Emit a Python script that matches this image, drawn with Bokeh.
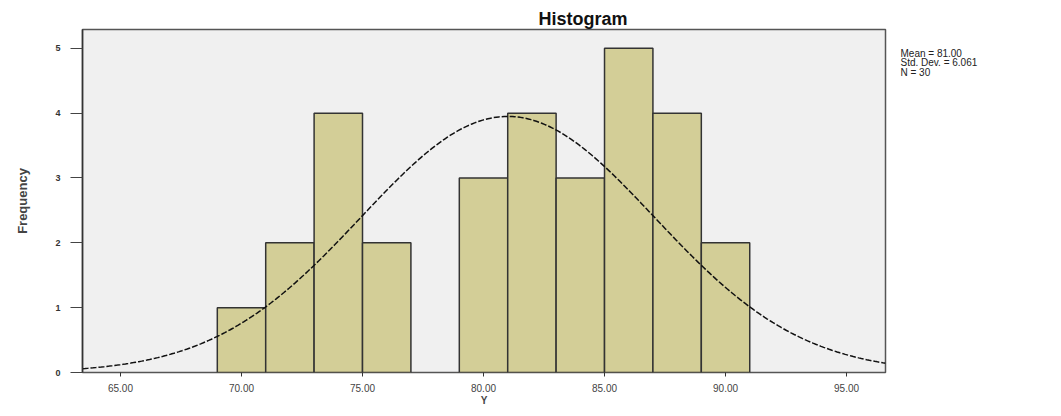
import numpy as np
from bokeh.plotting import figure
from bokeh.layouts import row
from bokeh.models import FixedTicker, NumeralTickFormatter, Range1d, Title
from bokeh.core.properties import value
from bokeh.embed import file_html
from bokeh.resources import INLINE

# Histogram data (bin edges and frequencies)
bin_left = [69, 71, 73, 75, 79, 81, 83, 85, 87, 89]
bin_right = [71, 73, 75, 77, 81, 83, 85, 87, 89, 91]
counts = [1, 2, 4, 2, 3, 4, 3, 5, 4, 2]

mean = 81.00
std_dev = 6.061
n = 30
bin_width = 2.0

x_ticks = [65, 70, 75, 80, 85, 90, 95]
y_ticks = [0, 1, 2, 3, 4, 5]

H = 408
p = figure(width=893, height=H, output_backend="svg", toolbar_location=None,
           x_range=Range1d(63.43, 96.61), y_range=Range1d(0, 5.29),
           min_border_left=82, min_border_right=8, min_border_top=29,
           min_border_bottom=30)

p.background_fill_color = "#F0F0F0"
p.border_fill_color = "white"
p.outline_line_color = "#555555"
p.outline_line_width = 1.5
p.grid.visible = False

p.quad(left=bin_left, right=bin_right, bottom=0, top=counts,
       fill_color="#D3CE97", line_color="#333333", line_width=1.5)

xs = np.linspace(63.43, 96.61, 300)
ys = n * bin_width / (std_dev * np.sqrt(2 * np.pi)) * np.exp(-0.5 * ((xs - mean) / std_dev) ** 2)
p.line(xs, ys, line_color="#111111", line_width=1.5, line_dash="6 2")

# axes
p.xaxis.ticker = FixedTicker(ticks=x_ticks)
p.xaxis.formatter = NumeralTickFormatter(format="0.00")
p.xaxis.axis_label = "Y"
p.xaxis.axis_label_text_font = "Liberation Sans"
p.xaxis.axis_label_text_font_style = "bold"
p.xaxis.axis_label_text_font_size = "10px"
p.xaxis.axis_label_standoff = 0
p.xaxis.major_label_text_font = "Liberation Sans"
p.xaxis.major_label_text_font_size = "10px"
p.xaxis.major_label_text_color = "#444444"
p.xaxis.major_label_standoff = 7
p.xaxis.major_tick_in = 0
p.xaxis.major_tick_out = 4
p.xaxis.minor_tick_line_color = None
p.xaxis.axis_line_color = None
p.xaxis.major_tick_line_color = "#333333"

p.yaxis.ticker = FixedTicker(ticks=y_ticks)
p.yaxis.axis_label = "Frequency"
p.yaxis.axis_label_text_font = "Liberation Sans"
p.yaxis.axis_label_text_font_style = "bold"
p.yaxis.axis_label_text_font_size = "13px"
p.yaxis.axis_label_standoff = 22
p.yaxis.major_label_text_font = "Liberation Sans"
p.yaxis.major_label_text_font_style = "bold"
p.yaxis.major_label_text_font_size = "9px"
p.yaxis.major_label_text_color = "#333333"
p.yaxis.major_label_standoff = 10
p.yaxis.major_tick_in = 0
p.yaxis.major_tick_out = 12
p.yaxis.minor_tick_line_color = None
p.yaxis.axis_line_color = "#333333"
p.yaxis.axis_line_width = 1.5
p.yaxis.major_tick_line_color = "#444444"

# title
p.add_layout(Title(text="Histogram", align="left", offset=456,
                   text_font="Liberation Sans", text_font_style="bold",
                   text_font_size="18px", text_color="#111111", standoff=2),
             "above")

# stats panel on the right
stats = ["Mean = %.2f" % mean, "Std. Dev. = %.3f" % std_dev, "N = %d" % n]
q = figure(width=152, height=H, output_backend="svg", toolbar_location=None,
           x_range=Range1d(0, 152), y_range=Range1d(0, H),
           min_border=0, x_axis_type=None, y_axis_type=None)
q.outline_line_color = None
q.grid.visible = False
q.background_fill_color = "white"
q.text(x=[7] * len(stats), y=[380 - i * 11.5 for i in range(len(stats))], text=stats,
       text_align="left", text_baseline="middle", text_font=value("Liberation Sans"),
       text_font_size="10px", text_color="#222222")

layout = row(p, q, spacing=0)
open("out.html", "w").write(file_html(layout, INLINE))
